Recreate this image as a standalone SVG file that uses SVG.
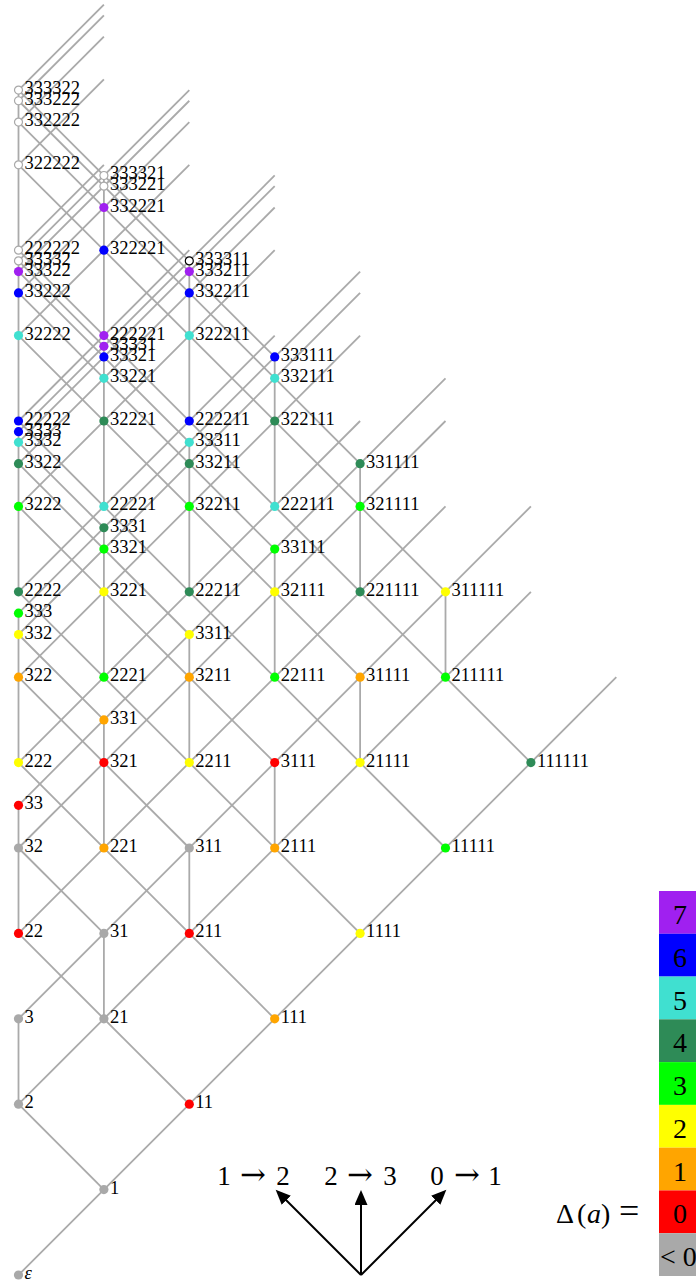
<svg xmlns="http://www.w3.org/2000/svg" width="696" height="1282" viewBox="0 0 696 1282">
<style>
.e line{stroke:#aaaaaa;stroke-width:1.8;fill:none}
.n text{font-family:"Liberation Serif",serif;font-size:18.5px;fill:#000}
.p7{fill:#a020f0}.p6{fill:#0000ff}.p5{fill:#40e0d0}.p4{fill:#2e8b57}.p3{fill:#00ff00}
.p2{fill:#ffff00}.p1{fill:#ffa500}.p0{fill:#ff0000}.pn{fill:#a9a9a9}
.po{fill:#ffffff;stroke:#a9a9a9;stroke-width:1.2}.pk{fill:#ffffff;stroke:#000000;stroke-width:1.2}
.lg text{font-family:"Liberation Serif",serif;font-size:28px;fill:#000}
.ar line{stroke:#000;stroke-width:2}
.ar text{font-family:"Liberation Serif",serif;font-size:27px;fill:#000}
.ar .to{font-family:"DejaVu Serif",serif;font-size:31px}
</style>
<defs>
<marker id="ah" markerUnits="userSpaceOnUse" markerWidth="16" markerHeight="13" refX="11" refY="6.5" orient="auto">
<path d="M0,0 L15,6.5 L0,13 z" fill="#000"/>
</marker>
</defs>
<g id="connectors" class="e">
<line x1="18.5" y1="1275" x2="616.3" y2="677.2"/>
<line x1="18.5" y1="1104.2" x2="530.9" y2="591.8"/>
<line x1="18.5" y1="933.4" x2="445.5" y2="506.4"/>
<line x1="18.5" y1="762.6" x2="360.1" y2="421"/>
<line x1="18.5" y1="591.8" x2="274.7" y2="335.6"/>
<line x1="18.5" y1="421" x2="189.3" y2="250.2"/>
<line x1="18.5" y1="250.2" x2="103.9" y2="164.8"/>
<line x1="18.5" y1="1018.8" x2="530.9" y2="506.4"/>
<line x1="18.5" y1="848" x2="445.5" y2="421"/>
<line x1="18.5" y1="677.2" x2="360.1" y2="335.6"/>
<line x1="18.5" y1="506.4" x2="274.7" y2="250.2"/>
<line x1="18.5" y1="335.6" x2="189.3" y2="164.8"/>
<line x1="18.5" y1="164.8" x2="103.9" y2="79.4"/>
<line x1="18.5" y1="805.3" x2="445.5" y2="378.3"/>
<line x1="18.5" y1="634.5" x2="360.1" y2="292.9"/>
<line x1="18.5" y1="463.7" x2="274.7" y2="207.5"/>
<line x1="18.5" y1="292.9" x2="189.3" y2="122.1"/>
<line x1="18.5" y1="122.1" x2="103.9" y2="36.7"/>
<line x1="18.5" y1="613.15" x2="360.1" y2="271.55"/>
<line x1="18.5" y1="442.35" x2="274.7" y2="186.15"/>
<line x1="18.5" y1="271.55" x2="189.3" y2="100.75"/>
<line x1="18.5" y1="100.75" x2="103.9" y2="15.35"/>
<line x1="18.5" y1="431.675" x2="274.7" y2="175.475"/>
<line x1="18.5" y1="260.875" x2="189.3" y2="90.075"/>
<line x1="18.5" y1="90.075" x2="103.9" y2="4.675"/>
<line x1="103.9" y1="1189.6" x2="18.5" y2="1104.2"/>
<line x1="189.3" y1="1104.2" x2="18.5" y2="933.4"/>
<line x1="274.7" y1="1018.8" x2="18.5" y2="762.6"/>
<line x1="360.1" y1="933.4" x2="18.5" y2="591.8"/>
<line x1="445.5" y1="848" x2="18.5" y2="421"/>
<line x1="530.9" y1="762.6" x2="18.5" y2="250.2"/>
<line x1="103.9" y1="933.4" x2="18.5" y2="848"/>
<line x1="189.3" y1="848" x2="18.5" y2="677.2"/>
<line x1="274.7" y1="762.6" x2="18.5" y2="506.4"/>
<line x1="360.1" y1="677.2" x2="18.5" y2="335.6"/>
<line x1="445.5" y1="591.8" x2="18.5" y2="164.8"/>
<line x1="103.9" y1="719.9" x2="18.5" y2="634.5"/>
<line x1="189.3" y1="634.5" x2="18.5" y2="463.7"/>
<line x1="274.7" y1="549.1" x2="18.5" y2="292.9"/>
<line x1="360.1" y1="463.7" x2="18.5" y2="122.1"/>
<line x1="103.9" y1="527.75" x2="18.5" y2="442.35"/>
<line x1="189.3" y1="442.35" x2="18.5" y2="271.55"/>
<line x1="274.7" y1="356.95" x2="18.5" y2="100.75"/>
<line x1="103.9" y1="346.275" x2="18.5" y2="260.875"/>
<line x1="189.3" y1="260.875" x2="18.5" y2="90.075"/>
<line x1="18.5" y1="1104.2" x2="18.5" y2="1018.8"/>
<line x1="18.5" y1="933.4" x2="18.5" y2="805.3"/>
<line x1="18.5" y1="762.6" x2="18.5" y2="613.15"/>
<line x1="18.5" y1="591.8" x2="18.5" y2="431.675"/>
<line x1="18.5" y1="421" x2="18.5" y2="260.875"/>
<line x1="18.5" y1="250.2" x2="18.5" y2="90.075"/>
<line x1="103.9" y1="1018.8" x2="103.9" y2="933.4"/>
<line x1="103.9" y1="848" x2="103.9" y2="719.9"/>
<line x1="103.9" y1="677.2" x2="103.9" y2="527.75"/>
<line x1="103.9" y1="506.4" x2="103.9" y2="346.275"/>
<line x1="103.9" y1="335.6" x2="103.9" y2="175.475"/>
<line x1="189.3" y1="933.4" x2="189.3" y2="848"/>
<line x1="189.3" y1="762.6" x2="189.3" y2="634.5"/>
<line x1="189.3" y1="591.8" x2="189.3" y2="442.35"/>
<line x1="189.3" y1="421" x2="189.3" y2="260.875"/>
<line x1="274.7" y1="848" x2="274.7" y2="762.6"/>
<line x1="274.7" y1="677.2" x2="274.7" y2="549.1"/>
<line x1="274.7" y1="506.4" x2="274.7" y2="356.95"/>
<line x1="360.1" y1="762.6" x2="360.1" y2="677.2"/>
<line x1="360.1" y1="591.8" x2="360.1" y2="463.7"/>
<line x1="445.5" y1="677.2" x2="445.5" y2="591.8"/>
</g>
<g id="nodes" class="n">
<g id="n-eps" transform="translate(18.5,1275)"><circle r="4.6" class="pn"/><text x="6" y="4" font-style="italic">ε</text></g>
<g id="n-2" transform="translate(18.5,1104.2)"><circle r="4.6" class="pn"/><text x="6" y="4">2</text></g>
<g id="n-3" transform="translate(18.5,1018.8)"><circle r="4.6" class="pn"/><text x="6" y="4">3</text></g>
<g id="n-22" transform="translate(18.5,933.4)"><circle r="4.6" class="p0"/><text x="6" y="4">22</text></g>
<g id="n-32" transform="translate(18.5,848)"><circle r="4.6" class="pn"/><text x="6" y="4">32</text></g>
<g id="n-33" transform="translate(18.5,805.3)"><circle r="4.6" class="p0"/><text x="6" y="4">33</text></g>
<g id="n-222" transform="translate(18.5,762.6)"><circle r="4.6" class="p2"/><text x="6" y="4">222</text></g>
<g id="n-322" transform="translate(18.5,677.2)"><circle r="4.6" class="p1"/><text x="6" y="4">322</text></g>
<g id="n-332" transform="translate(18.5,634.5)"><circle r="4.6" class="p2"/><text x="6" y="4">332</text></g>
<g id="n-333" transform="translate(18.5,613.15)"><circle r="4.6" class="p3"/><text x="6" y="4">333</text></g>
<g id="n-2222" transform="translate(18.5,591.8)"><circle r="4.6" class="p4"/><text x="6" y="4">2222</text></g>
<g id="n-3222" transform="translate(18.5,506.4)"><circle r="4.6" class="p3"/><text x="6" y="4">3222</text></g>
<g id="n-3322" transform="translate(18.5,463.7)"><circle r="4.6" class="p4"/><text x="6" y="4">3322</text></g>
<g id="n-3332" transform="translate(18.5,442.35)"><circle r="4.6" class="p5"/><text x="6" y="4">3332</text></g>
<g id="n-3333" transform="translate(18.5,431.675)"><circle r="4.6" class="p6"/><text x="6" y="4">3333</text></g>
<g id="n-22222" transform="translate(18.5,421)"><circle r="4.6" class="p6"/><text x="6" y="4">22222</text></g>
<g id="n-32222" transform="translate(18.5,335.6)"><circle r="4.6" class="p5"/><text x="6" y="4">32222</text></g>
<g id="n-33222" transform="translate(18.5,292.9)"><circle r="4.6" class="p6"/><text x="6" y="4">33222</text></g>
<g id="n-33322" transform="translate(18.5,271.55)"><circle r="4.6" class="p7"/><text x="6" y="4">33322</text></g>
<g id="n-33332" transform="translate(18.5,260.875)"><circle r="4" class="po"/><text x="6" y="4">33332</text></g>
<g id="n-222222" transform="translate(18.5,250.2)"><circle r="4" class="po"/><text x="6" y="4">222222</text></g>
<g id="n-322222" transform="translate(18.5,164.8)"><circle r="4" class="po"/><text x="6" y="4">322222</text></g>
<g id="n-332222" transform="translate(18.5,122.1)"><circle r="4" class="po"/><text x="6" y="4">332222</text></g>
<g id="n-333222" transform="translate(18.5,100.75)"><circle r="4" class="po"/><text x="6" y="4">333222</text></g>
<g id="n-333322" transform="translate(18.5,90.075)"><circle r="4" class="po"/><text x="6" y="4">333322</text></g>
<g id="n-1" transform="translate(103.9,1189.6)"><circle r="4.6" class="pn"/><text x="6" y="4">1</text></g>
<g id="n-21" transform="translate(103.9,1018.8)"><circle r="4.6" class="pn"/><text x="6" y="4">21</text></g>
<g id="n-31" transform="translate(103.9,933.4)"><circle r="4.6" class="pn"/><text x="6" y="4">31</text></g>
<g id="n-221" transform="translate(103.9,848)"><circle r="4.6" class="p1"/><text x="6" y="4">221</text></g>
<g id="n-321" transform="translate(103.9,762.6)"><circle r="4.6" class="p0"/><text x="6" y="4">321</text></g>
<g id="n-331" transform="translate(103.9,719.9)"><circle r="4.6" class="p1"/><text x="6" y="4">331</text></g>
<g id="n-2221" transform="translate(103.9,677.2)"><circle r="4.6" class="p3"/><text x="6" y="4">2221</text></g>
<g id="n-3221" transform="translate(103.9,591.8)"><circle r="4.6" class="p2"/><text x="6" y="4">3221</text></g>
<g id="n-3321" transform="translate(103.9,549.1)"><circle r="4.6" class="p3"/><text x="6" y="4">3321</text></g>
<g id="n-3331" transform="translate(103.9,527.75)"><circle r="4.6" class="p4"/><text x="6" y="4">3331</text></g>
<g id="n-22221" transform="translate(103.9,506.4)"><circle r="4.6" class="p5"/><text x="6" y="4">22221</text></g>
<g id="n-32221" transform="translate(103.9,421)"><circle r="4.6" class="p4"/><text x="6" y="4">32221</text></g>
<g id="n-33221" transform="translate(103.9,378.3)"><circle r="4.6" class="p5"/><text x="6" y="4">33221</text></g>
<g id="n-33321" transform="translate(103.9,356.95)"><circle r="4.6" class="p6"/><text x="6" y="4">33321</text></g>
<g id="n-33331" transform="translate(103.9,346.275)"><circle r="4.6" class="p7"/><text x="6" y="4">33331</text></g>
<g id="n-222221" transform="translate(103.9,335.6)"><circle r="4.6" class="p7"/><text x="6" y="4">222221</text></g>
<g id="n-322221" transform="translate(103.9,250.2)"><circle r="4.6" class="p6"/><text x="6" y="4">322221</text></g>
<g id="n-332221" transform="translate(103.9,207.5)"><circle r="4.6" class="p7"/><text x="6" y="4">332221</text></g>
<g id="n-333221" transform="translate(103.9,186.15)"><circle r="4" class="po"/><text x="6" y="4">333221</text></g>
<g id="n-333321" transform="translate(103.9,175.475)"><circle r="4" class="po"/><text x="6" y="4">333321</text></g>
<g id="n-11" transform="translate(189.3,1104.2)"><circle r="4.6" class="p0"/><text x="6" y="4">11</text></g>
<g id="n-211" transform="translate(189.3,933.4)"><circle r="4.6" class="p0"/><text x="6" y="4">211</text></g>
<g id="n-311" transform="translate(189.3,848)"><circle r="4.6" class="pn"/><text x="6" y="4">311</text></g>
<g id="n-2211" transform="translate(189.3,762.6)"><circle r="4.6" class="p2"/><text x="6" y="4">2211</text></g>
<g id="n-3211" transform="translate(189.3,677.2)"><circle r="4.6" class="p1"/><text x="6" y="4">3211</text></g>
<g id="n-3311" transform="translate(189.3,634.5)"><circle r="4.6" class="p2"/><text x="6" y="4">3311</text></g>
<g id="n-22211" transform="translate(189.3,591.8)"><circle r="4.6" class="p4"/><text x="6" y="4">22211</text></g>
<g id="n-32211" transform="translate(189.3,506.4)"><circle r="4.6" class="p3"/><text x="6" y="4">32211</text></g>
<g id="n-33211" transform="translate(189.3,463.7)"><circle r="4.6" class="p4"/><text x="6" y="4">33211</text></g>
<g id="n-33311" transform="translate(189.3,442.35)"><circle r="4.6" class="p5"/><text x="6" y="4">33311</text></g>
<g id="n-222211" transform="translate(189.3,421)"><circle r="4.6" class="p6"/><text x="6" y="4">222211</text></g>
<g id="n-322211" transform="translate(189.3,335.6)"><circle r="4.6" class="p5"/><text x="6" y="4">322211</text></g>
<g id="n-332211" transform="translate(189.3,292.9)"><circle r="4.6" class="p6"/><text x="6" y="4">332211</text></g>
<g id="n-333211" transform="translate(189.3,271.55)"><circle r="4.6" class="p7"/><text x="6" y="4">333211</text></g>
<g id="n-333311" transform="translate(189.3,260.875)"><circle r="4" class="pk"/><text x="6" y="4">333311</text></g>
<g id="n-111" transform="translate(274.7,1018.8)"><circle r="4.6" class="p1"/><text x="6" y="4">111</text></g>
<g id="n-2111" transform="translate(274.7,848)"><circle r="4.6" class="p1"/><text x="6" y="4">2111</text></g>
<g id="n-3111" transform="translate(274.7,762.6)"><circle r="4.6" class="p0"/><text x="6" y="4">3111</text></g>
<g id="n-22111" transform="translate(274.7,677.2)"><circle r="4.6" class="p3"/><text x="6" y="4">22111</text></g>
<g id="n-32111" transform="translate(274.7,591.8)"><circle r="4.6" class="p2"/><text x="6" y="4">32111</text></g>
<g id="n-33111" transform="translate(274.7,549.1)"><circle r="4.6" class="p3"/><text x="6" y="4">33111</text></g>
<g id="n-222111" transform="translate(274.7,506.4)"><circle r="4.6" class="p5"/><text x="6" y="4">222111</text></g>
<g id="n-322111" transform="translate(274.7,421)"><circle r="4.6" class="p4"/><text x="6" y="4">322111</text></g>
<g id="n-332111" transform="translate(274.7,378.3)"><circle r="4.6" class="p5"/><text x="6" y="4">332111</text></g>
<g id="n-333111" transform="translate(274.7,356.95)"><circle r="4.6" class="p6"/><text x="6" y="4">333111</text></g>
<g id="n-1111" transform="translate(360.1,933.4)"><circle r="4.6" class="p2"/><text x="6" y="4">1111</text></g>
<g id="n-21111" transform="translate(360.1,762.6)"><circle r="4.6" class="p2"/><text x="6" y="4">21111</text></g>
<g id="n-31111" transform="translate(360.1,677.2)"><circle r="4.6" class="p1"/><text x="6" y="4">31111</text></g>
<g id="n-221111" transform="translate(360.1,591.8)"><circle r="4.6" class="p4"/><text x="6" y="4">221111</text></g>
<g id="n-321111" transform="translate(360.1,506.4)"><circle r="4.6" class="p3"/><text x="6" y="4">321111</text></g>
<g id="n-331111" transform="translate(360.1,463.7)"><circle r="4.6" class="p4"/><text x="6" y="4">331111</text></g>
<g id="n-11111" transform="translate(445.5,848)"><circle r="4.6" class="p3"/><text x="6" y="4">11111</text></g>
<g id="n-211111" transform="translate(445.5,677.2)"><circle r="4.6" class="p3"/><text x="6" y="4">211111</text></g>
<g id="n-311111" transform="translate(445.5,591.8)"><circle r="4.6" class="p2"/><text x="6" y="4">311111</text></g>
<g id="n-111111" transform="translate(530.9,762.6)"><circle r="4.6" class="p4"/><text x="6" y="4">111111</text></g>
</g>
<g id="moves" class="ar">
<line x1="361" y1="1275" x2="278.5" y2="1192.5" marker-end="url(#ah)"/>
<line x1="361" y1="1275" x2="361" y2="1194" marker-end="url(#ah)"/>
<line x1="361" y1="1275" x2="443.5" y2="1192.5" marker-end="url(#ah)"/>
<text y="1185" text-anchor="middle"><tspan x="224">1</tspan><tspan x="253" class="to">→</tspan><tspan x="283">2</tspan></text>
<text y="1185" text-anchor="middle"><tspan x="331">2</tspan><tspan x="360" class="to">→</tspan><tspan x="390">3</tspan></text>
<text y="1185" text-anchor="middle"><tspan x="437">0</tspan><tspan x="467" class="to">→</tspan><tspan x="495">1</tspan></text>
</g>
<g id="legend" class="lg">
<rect x="659" y="891" width="43" height="42.78" class="p7"/>
<rect x="659" y="933.78" width="43" height="42.78" class="p6"/>
<rect x="659" y="976.56" width="43" height="42.78" class="p5"/>
<rect x="659" y="1019.33" width="43" height="42.78" class="p4"/>
<rect x="659" y="1062.11" width="43" height="42.78" class="p3"/>
<rect x="659" y="1104.89" width="43" height="42.78" class="p2"/>
<rect x="659" y="1147.67" width="43" height="42.78" class="p1"/>
<rect x="659" y="1190.44" width="43" height="42.78" class="p0"/>
<rect x="659" y="1233.22" width="43" height="42.78" class="pn"/>
<text x="680" y="924" text-anchor="middle">7</text>
<text x="680" y="966.8" text-anchor="middle">6</text>
<text x="680" y="1009.6" text-anchor="middle">5</text>
<text x="680" y="1052.3" text-anchor="middle">4</text>
<text x="680" y="1095.1" text-anchor="middle">3</text>
<text x="680" y="1137.9" text-anchor="middle">2</text>
<text x="680" y="1180.7" text-anchor="middle">1</text>
<text x="680" y="1223.4" text-anchor="middle">0</text>
<text x="660" y="1266.2">&lt; 0</text>
<text y="1223.4"><tspan x="556">Δ</tspan><tspan x="577">(</tspan><tspan x="587" font-style="italic">a</tspan><tspan x="601">)</tspan><tspan x="619" font-size="36">=</tspan></text>
</g>
</svg>
